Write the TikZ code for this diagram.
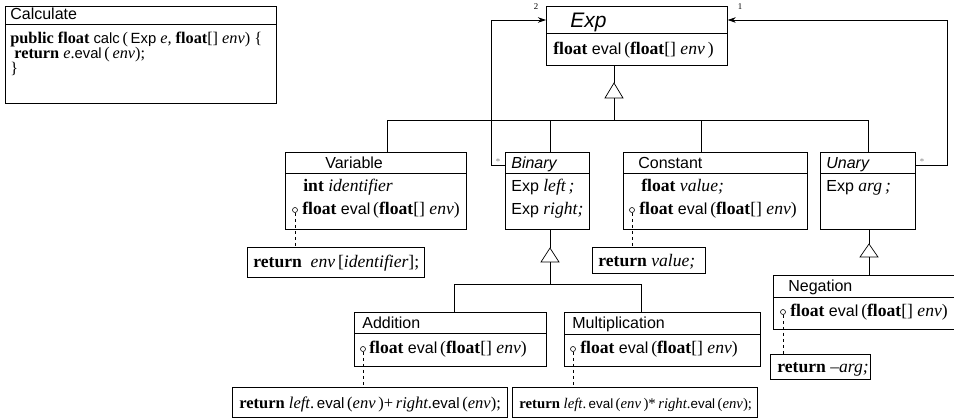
\documentclass[tikz,border=0pt]{standalone}
\usepackage{fontspec}
\setmainfont{Liberation Serif}[Scale=1.1]
\setsansfont{Liberation Sans}
\usetikzlibrary{arrows.meta}
\newcommand*{\kw}[1]{\textbf{#1}}
\newcommand*{\vr}[1]{\textit{#1}}
\newcommand*{\sa}[1]{\textsf{#1}}
\newcommand*{\evalsig}{\kw{float}\ \sa{eval}\,(\kw{float}[]\ \vr{env})}
\newcommand*{\compart}[2]{\draw (#1.west |- 0,#2) -- (#1.east |- 0,#2);}

\begin{document}
\begin{tikzpicture}[x=1pt,y=-1pt,line width=.7pt,
  font=\fontsize{16}{18}\selectfont,
  box/.style={draw,anchor=north west,inner sep=0pt},
  txt/.style={anchor=base west,inner sep=0pt},
  hole/.style={draw,circle,fill=white,inner sep=0pt,minimum size=5pt,line width=.6pt},
  impl/.style={dash pattern=on 3pt off 3pt,line width=.6pt},
  assoc/.style={-{Stealth[length=8pt,width=5.5pt]}},
  mult/.style={anchor=base,inner sep=0pt,font=\fontsize{8}{9}\selectfont}]
\useasboundingbox (0,0) rectangle (954,418);
% The client class
\node[box,minimum width=271pt,minimum height=97pt] (calc) at (5,6) {};
\compart{calc}{24}
\node[txt] (calct) at (10,19) {\sa{Calculate}};
\begin{scope}[font=\fontsize{14.8}{18}\selectfont]
\node[txt] (calc1) at (10,43) {\kw{public float}\ \sa{calc}\,(\,\sa{Exp}\ \vr{e,} \kw{float}[]\ \vr{env}) \{};
\node[txt] (calc2) at (14,58) {\kw{return}\ \vr{e}.\sa{eval}\,(\,\vr{env});};
\node[txt] (calc3) at (10,73) {\}};
\end{scope}
% Abstract root
\node[box,minimum width=181pt,minimum height=59pt] (exp) at (546,6) {};
\compart{exp}{33}
\node[txt,font=\fontsize{21}{24}\selectfont\sffamily\itshape] (expt) at (570,27) {Exp};
\node[txt] (exp1) at (553,54) {\kw{float}\ \sa{eval}\,(\kw{float}[]\ \vr{env}\,)};
% Subclasses of Exp
\node[box,minimum width=181pt,minimum height=77pt] (var) at (285,152) {};
\compart{var}{173}
\node[txt] (vart) at (325,168) {\sa{Variable}};
\node[txt] (var1) at (303,191) {\kw{int}\ \vr{identifier}};
\node[txt] (var2) at (302,214) {\evalsig};
\node[hole] (varh) at (295,210) {};
\node[box,minimum width=84pt,minimum height=77pt] (bin) at (505,152) {};
\compart{bin}{173}
\node[txt] (bint) at (511,168) {\sa{\textit{Binary}}};
\node[txt] (bin1) at (511,191) {\sa{Exp}\ \vr{left\,;}};
\node[txt] (bin2) at (511,214) {\sa{Exp}\ \vr{right;}};
\node[box,minimum width=184pt,minimum height=77pt] (con) at (623,152) {};
\compart{con}{173}
\node[txt] (cont) at (638,168) {\sa{Constant}};
\node[txt] (con1) at (641,191) {\kw{float}\ \vr{value;}};
\node[txt] (con2) at (639,214) {\evalsig};
\node[hole] (conh) at (632,210) {};
\node[box,minimum width=95pt,minimum height=77pt] (uni) at (820,152) {};
\compart{uni}{173}
\node[txt] (unit) at (826,168) {\sa{\textit{Unary}}};
\node[txt] (uni1) at (826,191) {\sa{Exp}\ \vr{arg\,;}};
% Concrete operators
\node[box,minimum width=192pt,minimum height=54pt] (add) at (354,312) {};
\compart{add}{333}
\node[txt] (addt) at (362,328) {\sa{Addition}};
\node[txt] (add1) at (369,353) {\evalsig};
\node[hole] (addh) at (363,349) {};
\node[box,minimum width=196pt,minimum height=54pt] (mul) at (564,312) {};
\compart{mul}{334}
\node[txt] (mult) at (572,328) {\sa{Multiplication}};
\node[txt] (mul1) at (580,353) {\evalsig};
\node[hole] (mulh) at (573,349) {};
\node[box,minimum width=190pt,minimum height=54pt] (neg) at (773,275) {};
\compart{neg}{297}
\node[txt] (negt) at (788,291) {\sa{Negation}};
\node[txt] (neg1) at (790,316) {\evalsig};
\node[hole] (negh) at (783,312) {};
% Method bodies
\node[box,minimum width=177pt,minimum height=30pt] (varn) at (247,247) {};
\node[txt] (varnt) at (253,267) {\kw{return}\ \ \vr{env}\,[\vr{identifier}];};
\node[box,minimum width=113pt,minimum height=26pt] (conn) at (592,247) {};
\node[txt] (connt) at (598,266) {\kw{return}\ \vr{value;}};
\node[box,minimum width=275pt,minimum height=30pt] (addn) at (232,387) {};
\node[txt,font=\fontsize{15}{18}\selectfont] (addnt) at (239,408) {\kw{return}\ \vr{left}.\,\sa{eval}\,(\vr{env}\,)+\,\vr{right}.\sa{eval}\,(\vr{env});};
\node[box,minimum width=245pt,minimum height=30pt] (muln) at (512,387) {};
\node[txt,font=\fontsize{13.4}{18}\selectfont] (mulnt) at (519,408) {\kw{return}\ \vr{left}.\,\sa{eval}\,(\vr{env}\,)*\,\vr{right}.\sa{eval}\,(\vr{env});};
\node[box,minimum width=100pt,minimum height=25pt] (negn) at (770,354) {};
\node[txt] (negnt) at (777,372) {\kw{return}\ \vr{--arg;}};
% Implementation links
\draw[impl] (varh) -- (varn.north -| varh);
\draw[impl] (conh) -- (conn.north -| conh);
\draw[impl] (addh) -- (addn.north -| addh);
\draw[impl] (mulh) -- (muln.north -| mulh);
\draw[impl] (negh) -- (negn.north -| negh);
% Generalisation: Exp
\coordinate (tA) at (614,83);
\draw (exp.south -| tA) -- (tA);
\draw[fill=white] (tA) -- ++(-9,15) -- ++(18,0) -- cycle;
\draw (614,98) -- (614,120);
\draw (var.north -| 387,0) -- (387,120) -- (868,120) -- (uni.north -| 868,0);
\draw (bin.north -| 550,0) -- (550,120);
\draw (con.north -| 701,0) -- (701,120);
% Generalisation: Binary
\coordinate (tB) at (550,248);
\draw (bin.south -| tB) -- (tB);
\draw[fill=white] (tB) -- ++(-9,14) -- ++(18,0) -- cycle;
\draw (add.north -| 454,0) -- (454,284) -- (641,284) -- (mul.north -| 641,0);
\draw (550,262) -- (550,284);
% Generalisation: Unary
\coordinate (tC) at (869,244);
\draw (uni.south -| tC) -- (tC);
\draw[fill=white] (tC) -- ++(-9,13) -- ++(18,0) -- cycle;
\draw (869,257) -- (neg.north -| tC);
% Associations to Exp
\draw[assoc] (bin.west |- 0,165) -- (491,165) -- (491,20) -- (exp.west |- 0,20);
\draw[assoc] (uni.east |- 0,165) -- (947,165) -- (947,20) -- (exp.east |- 0,20);
\node[mult] (m2) at (536,9) {2};
\node[mult] (m1) at (740,9) {1};
\node[mult,gray] (s2) at (498,164) {*};
\node[mult,gray] (s1) at (922,164) {*};
\end{tikzpicture}
\end{document}
